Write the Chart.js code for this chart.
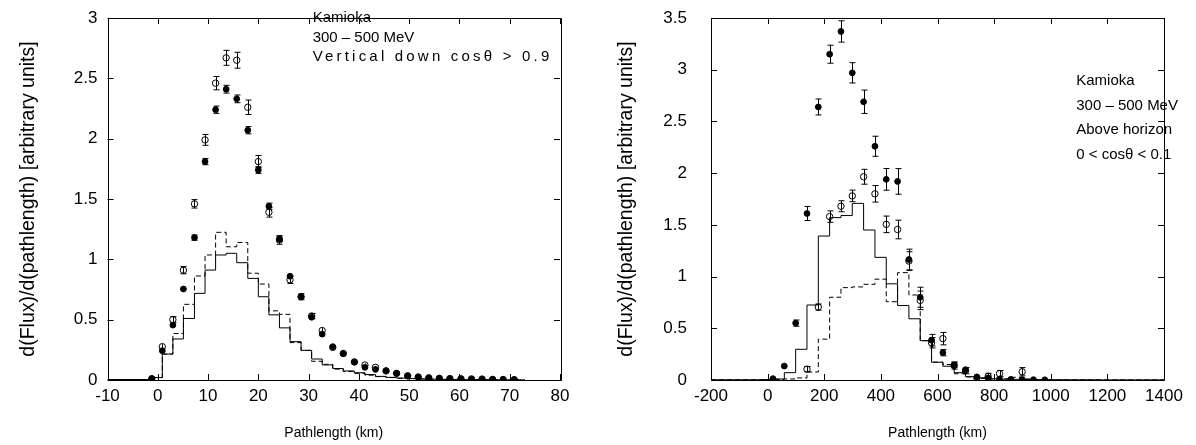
<!DOCTYPE html>
<html>
<head>
<meta charset="utf-8">
<script src="https://cdn.jsdelivr.net/npm/chart.js@4.4.0/dist/chart.umd.min.js"></script>
<style>
body { margin: 0; background: #fff; }
#wrap { position: relative; width: 1196px; height: 445px; }
#wrap canvas { position: absolute; top: 0; }
</style>
</head>
<body>
<div id="wrap">
    <canvas id="vertCanvas" width="598" height="445" style="left:0"></canvas>
    <canvas id="horizCanvas" width="598" height="445" style="left:598px"></canvas>
</div>
<script>
// ---- left panel: vertical down, cos > 0.9 ----
var vertX = [-1.2, 0.9, 3.0, 5.1, 7.3, 9.4, 11.5, 13.6, 15.7, 17.9, 20.0, 22.1, 24.2, 26.3, 28.5, 30.6, 32.7,
    34.8, 36.9, 39.1, 41.2, 43.3, 45.4, 47.5, 49.7, 51.8, 53.9, 56.0, 58.1, 60.3, 62.4, 64.5, 66.6, 68.7, 70.9];
var vertOpen = [0.01, 0.276, 0.50, 0.91, 1.46, 1.99, 2.46, 2.67, 2.65, 2.26, 1.81, 1.39, 1.16, 0.83, 0.69, 0.53, 0.41,
    0.27, 0.22, 0.15, 0.124, 0.105, 0.075, 0.055, 0.035, 0.025, 0.018, 0.014, 0.012, 0.01, 0.009, 0.008, 0.005, 0.004, 0.003];
var vertOpenErr = [0.008, 0.02, 0.025, 0.03, 0.035, 0.045, 0.055, 0.062, 0.066, 0.06, 0.05, 0.04, 0.035, 0.03, 0.025, 0.022, 0.02,
    0.018, 0.016, 0.014, 0.013, 0.012, 0.011, 0.01, 0.009, 0.008, 0.008, 0.007, 0.007, 0.006, 0.006, 0.012, 0.005, 0.005, 0.004];
var vertFilled = [0.012, 0.243, 0.455, 0.754, 1.18, 1.81, 2.24, 2.41, 2.33, 2.07, 1.74, 1.44, 1.17, 0.86, 0.69, 0.52, 0.38,
    0.276, 0.218, 0.148, 0.105, 0.088, 0.077, 0.055, 0.033, 0.024, 0.017, 0.013, 0.011, 0.009, 0.007, 0.006, 0.005, 0.004, 0.003];
var vertFilledErr = [0.005, 0.012, 0.015, 0.018, 0.022, 0.026, 0.03, 0.032, 0.032, 0.03, 0.028, 0.026, 0.024, 0.02, 0.018, 0.015, 0.013,
    0.012, 0.01, 0.009, 0.008, 0.008, 0.007, 0.007, 0.006, 0.006, 0.005, 0.005, 0.005, 0.004, 0.004, 0.004, 0.004, 0.003, 0.003];

var vertEdges = [-10, -1.2, 0.9, 3.0, 5.1, 7.3, 9.4, 11.5, 13.6, 15.7, 17.9, 20.0, 22.1, 24.2, 26.3, 28.5, 30.6, 32.7,
    34.8, 36.9, 39.1, 41.2, 43.3, 45.4, 47.5, 49.7, 51.8, 53.9, 56.0, 58.1, 60.3, 62.4, 64.5, 66.6, 68.7, 70.9, 73.0];
var vertSolid = [0.004, 0.02, 0.215, 0.34, 0.51, 0.718, 0.911, 1.036, 1.05, 0.972, 0.842, 0.69, 0.54, 0.432, 0.318, 0.246, 0.174, 0.125,
    0.095, 0.075, 0.06, 0.045, 0.03, 0.022, 0.016, 0.012, 0.009, 0.007, 0.005, 0.004, 0.003, 0.003, 0.002, 0.002, 0.001, 0.001, 0.001];
var vertDashed = [0.004, 0.02, 0.215, 0.385, 0.627, 0.862, 1.036, 1.224, 1.104, 1.14, 0.885, 0.795, 0.573, 0.544, 0.31, 0.245, 0.155, 0.13,
    0.09, 0.07, 0.055, 0.04, 0.028, 0.02, 0.014, 0.011, 0.008, 0.006, 0.005, 0.004, 0.003, 0.003, 0.002, 0.002, 0.001, 0.001, 0.001];

var vertXTicks = [-10, 0, 10, 20, 30, 40, 50, 60, 70, 80];
var vertYTicks = [0, 0.5, 1, 1.5, 2, 2.5, 3];
var vertNote = ['Kamioka', '300 \u2013 500 MeV', 'Vertical down cos\u03b8 > 0.9'];

// ---- right panel: above horizon, 0 < cos < 0.1 ----
var horizX = [19, 59, 99, 139, 179, 219, 259, 299, 339, 379, 419, 459, 499, 539, 579, 619,
    659, 699, 739, 779, 819, 859, 899, 939, 979];
var horizFilled = [0.013, 0.135, 0.55, 1.61, 2.64, 3.15, 3.37, 2.97, 2.69, 2.26, 1.94, 1.92, 1.165, 0.80, 0.385, 0.264,
    0.145, 0.10, 0.03, 0.02, 0.01, 0.006, 0.004, 0.003, 0.002];
var horizFilledErr = [0.008, 0.02, 0.03, 0.068, 0.077, 0.087, 0.103, 0.098, 0.113, 0.097, 0.105, 0.124, 0.1, 0.097, 0.056, 0.03,
    0.025, 0.02, 0.012, 0.01, 0.008, 0.005, 0.004, 0.003, 0.003];
var horizOpen = [null, null, null, 0.105, 0.705, 1.58, 1.68, 1.78, 1.965, 1.80, 1.505, 1.455, 1.15, 0.77, 0.36, 0.40,
    0.14, 0.09, 0.02, 0.035, 0.062, null, 0.08, null, null];
var horizOpenErr = [0, 0, 0, 0.025, 0.03, 0.055, 0.053, 0.056, 0.072, 0.08, 0.08, 0.09, 0.09, 0.09, 0.05, 0.06,
    0.035, 0.03, 0.02, 0.03, 0.03, 0, 0.04, 0, 0];

var horizEdges = [-200, -21, 19, 59, 99, 139, 179, 219, 259, 299, 339, 379, 419, 459, 499, 539, 579, 619, 659, 699, 739,
    779, 819, 859, 899, 939, 979, 1019, 1059, 1099, 1139, 1179, 1219, 1259, 1299, 1339, 1379, 1400];
var horizSolid = [0.002, 0.004, 0.01, 0.071, 0.297, 0.725, 1.392, 1.57, 1.59, 1.708, 1.45, 1.186, 0.93, 0.72, 0.592, 0.38, 0.172,
    0.133, 0.071, 0.032, 0.022, 0.012, 0.008, 0.006, 0.005, 0.004, 0.003, 0.003, 0.002, 0.002, 0.002, 0.001, 0.001, 0.001,
    0.001, 0.001, 0.001, 0.001];
var horizDashed = [0.002, 0.003, 0.005, 0.01, 0.02, 0.077, 0.395, 0.80, 0.893, 0.90, 0.925, 0.975, 0.757, 1.038, 0.822, 0.38, 0.172,
    0.15, 0.06, 0.03, 0.015, 0.01, 0.012, 0.026, 0.01, 0.004, 0.003, 0.002, 0.002, 0.002, 0.001, 0.001, 0.001, 0.001,
    0.001, 0.001, 0.001, 0.001];

var horizXTicks = [-200, 0, 200, 400, 600, 800, 1000, 1200, 1400];
var horizYTicks = [0, 0.5, 1, 1.5, 2, 2.5, 3, 3.5];
var horizNote = ['Kamioka', '300 \u2013 500 MeV', 'Above horizon', '0 < cos\u03b8 < 0.1'];

var yTitle = 'd(Flux)/d(pathlength) [arbitrary units]';
var xTitle = 'Pathlength (km)';

var fontFamily = '"Liberation Sans", Arial, Helvetica, sans-serif';
Chart.defaults.font.family = fontFamily;
Chart.defaults.color = '#000';

function pairs(xs, ys, errs)
{
    var out = [];
    for (var i = 0; i < xs.length; i++) {
        if (ys[i] === null) continue;
        out.push({x: xs[i], y: ys[i], e: errs ? errs[i] : 0});
    }
    return out;
}

// gnuplot style frame with inward ticks on all four sides
var framePlugin = {
    id: 'frame',
    afterDraw: function (chart) {
        var ctx = chart.ctx, a = chart.chartArea;
        var xs = chart.scales.x, ys = chart.scales.y;
        var len = 6;
        ctx.save();
        ctx.strokeStyle = '#000';
        ctx.lineWidth = 1;
        ctx.beginPath();
        ctx.rect(Math.round(a.left) + 0.5, Math.round(a.top) + 0.5,
                 Math.round(a.right - a.left), Math.round(a.bottom - a.top));
        xs.ticks.forEach(function (t) {
            var px = Math.round(xs.getPixelForValue(t.value)) + 0.5;
            ctx.moveTo(px, a.bottom); ctx.lineTo(px, a.bottom - len);
            ctx.moveTo(px, a.top); ctx.lineTo(px, a.top + len);
        });
        ys.ticks.forEach(function (t) {
            var py = Math.round(ys.getPixelForValue(t.value)) + 0.5;
            ctx.moveTo(a.left, py); ctx.lineTo(a.left + len, py);
            ctx.moveTo(a.right, py); ctx.lineTo(a.right - len, py);
        });
        ctx.stroke();
        ctx.restore();
    }
};

var errorBarPlugin = {
    id: 'errbars',
    afterDatasetsDraw: function (chart) {
        var ctx = chart.ctx, xs = chart.scales.x, ys = chart.scales.y;
        ctx.save();
        ctx.strokeStyle = '#000';
        ctx.lineWidth = 1;
        chart.data.datasets.forEach(function (ds) {
            if (!ds.errBars) return;
            ds.data.forEach(function (p) {
                if (!p.e) return;
                var px = Math.round(xs.getPixelForValue(p.x)) + 0.5;
                var y1 = ys.getPixelForValue(p.y - p.e);
                var y2 = ys.getPixelForValue(p.y + p.e);
                ctx.beginPath();
                ctx.moveTo(px, y1); ctx.lineTo(px, y2);
                if (y1 - y2 > 5) {
                    ctx.moveTo(px - 3, y1); ctx.lineTo(px + 3, y1);
                    ctx.moveTo(px - 3, y2); ctx.lineTo(px + 3, y2);
                }
                ctx.stroke();
            });
        });
        ctx.restore();
    }
};

var notePlugin = {
    id: 'note',
    afterDraw: function (chart) {
        var o = chart.options.plugins.note;
        var ctx = chart.ctx;
        var px = chart.scales.x.getPixelForValue(o.x);
        var py = chart.scales.y.getPixelForValue(o.y);
        ctx.save();
        ctx.fillStyle = '#000';
        ctx.font = o.size + 'px ' + fontFamily;
        ctx.textBaseline = 'middle';
        ctx.textAlign = 'left';
        o.lines.forEach(function (s, i) {
            ctx.letterSpacing = (o.spacing && o.spacing[i] ? o.spacing[i] : 0) + 'px';
            ctx.fillText(s, px, py + i * o.gap);
        });
        ctx.restore();
    }
};

function makePanel(id, d)
{
    var datasets = [
        {
            data: pairs(d.edges, d.solid), showLine: true, stepped: true,
            borderColor: '#000', borderWidth: 1, pointRadius: 0, fill: false
        },
        {
            data: pairs(d.edges, d.dashed), showLine: true, stepped: true,
            borderColor: '#000', borderWidth: 1, borderDash: [5, 3], pointRadius: 0, fill: false
        },
        {
            data: pairs(d.x, d.open, d.openErr), errBars: true,
            pointRadius: 3.2, pointBorderWidth: 1, borderColor: '#000',
            backgroundColor: 'rgba(0,0,0,0)', pointBackgroundColor: 'rgba(0,0,0,0)'
        },
        {
            data: pairs(d.x, d.filled, d.filledErr), errBars: true,
            pointRadius: 2.9, pointBorderWidth: 1, borderColor: '#000',
            backgroundColor: '#000', pointBackgroundColor: '#000'
        }
    ];

    return new Chart(document.getElementById(id), {
        type: 'scatter',
        data: {datasets: datasets},
        plugins: [errorBarPlugin, framePlugin, notePlugin],
        options: {
            responsive: false,
            animation: false,
            events: [],
            layout: {padding: {left: 0, right: d.padRight, top: 18, bottom: 0}},
            plugins: {
                legend: {display: false},
                tooltip: {enabled: false},
                note: {x: d.noteX, y: d.noteY, lines: d.note, gap: d.noteGap, size: 15, spacing: d.noteSpacing}
            },
            scales: {
                x: {
                    type: 'linear', min: d.xTicks[0], max: d.xTicks[d.xTicks.length - 1],
                    afterBuildTicks: function (s) { s.ticks = d.xTicks.map(function (v) { return {value: v}; }); },
                    afterFit: function (s) {
                        s.height = 65;
                        s.paddingLeft = 0; s.paddingRight = 0;
                    },
                    grid: {display: false, drawTicks: false}, border: {display: false},
                    ticks: {
                        maxRotation: 0, autoSkip: false, padding: 8,
                        font: {size: 17, lineHeight: 1},
                        callback: function (v) { return String(v); }
                    },
                    title: {display: true, text: xTitle, font: {size: 14}, padding: {top: 0, bottom: 3.6}}
                },
                y: {
                    type: 'linear', min: 0, max: d.yTicks[d.yTicks.length - 1],
                    afterBuildTicks: function (s) { s.ticks = d.yTicks.map(function (v) { return {value: v}; }); },
                    afterFit: function (s) {
                        s.width = d.yWidth;
                        s.paddingTop = 0; s.paddingBottom = 0;
                    },
                    grid: {display: false, drawTicks: false}, border: {display: false},
                    ticks: {
                        autoSkip: false, padding: d.yPad,
                        font: {size: 17},
                        callback: function (v) { return String(v); }
                    },
                    title: {display: true, text: yTitle, font: {size: 19.5}, padding: {top: 17.3, bottom: 0}}
                }
            }
        }
    });
}

makePanel('vertCanvas', {
    x: vertX, open: vertOpen, openErr: vertOpenErr, filled: vertFilled, filledErr: vertFilledErr,
    edges: vertEdges, solid: vertSolid, dashed: vertDashed,
    xTicks: vertXTicks, yTicks: vertYTicks,
    note: vertNote, noteX: 30.8, noteY: 3.0, noteGap: 19.5, noteSpacing: [0, 0, 3.2],
    yWidth: 107.5, yPad: 10, padRight: 38
});

makePanel('horizCanvas', {
    x: horizX, open: horizOpen, openErr: horizOpenErr, filled: horizFilled, filledErr: horizFilledErr,
    edges: horizEdges, solid: horizSolid, dashed: horizDashed,
    xTicks: horizXTicks, yTicks: horizYTicks,
    note: horizNote, noteX: 1090, noteY: 2.89, noteGap: 24.5,
    yWidth: 113, yPad: 24, padRight: 32
});
</script>
</body>
</html>
